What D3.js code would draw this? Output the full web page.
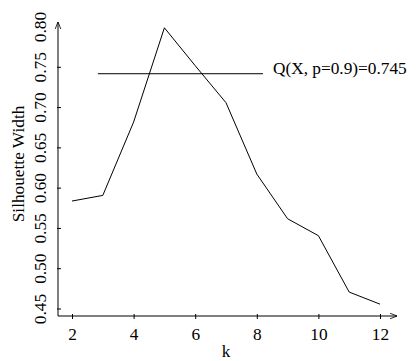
<!DOCTYPE html>
<html>
<head>
<meta charset="utf-8">
<script src="https://cdn.jsdelivr.net/npm/d3@7"></script>
<style>
  body { margin: 0; background: #fff; }
  text { font-family: "Liberation Serif", "DejaVu Serif", serif; fill: #000; font-size: 17.3px; }
</style>
</head>
<body>
<div id="chart"></div>
<script>
const kValues = [2, 3, 4, 5, 6, 7, 8, 9, 10, 11, 12];
const widths = [0.584, 0.591, 0.682, 0.799, 0.752, 0.706, 0.6175, 0.562, 0.541, 0.471, 0.456];
const xTicks = [2, 4, 6, 8, 10, 12];
const yTicks = [0.45, 0.50, 0.55, 0.60, 0.65, 0.70, 0.75, 0.80];
const quantile = 0.742;
const quantileSpan = [2.84, 8.2];
const quantileLabel = 'Q(X, p=0.9)=0.745';

const W = 420, H = 361;
const svg = d3.select('#chart').append('svg')
  .attr('width', W)
  .attr('height', H);

// scales (pixel ranges)
const x = d3.scaleLinear().domain([2, 12]).range([72, 380]);
const y = d3.scaleLinear().domain([0.45, 0.80]).range([309, 27]);

const axisX = 58, axisY = 316;

svg.append('defs').append('marker')
  .attr('id', 'arrow')
  .attr('viewBox', '0 0 10 10')
  .attr('refX', 10).attr('refY', 5)
  .attr('markerWidth', 7).attr('markerHeight', 7)
  .attr('markerUnits', 'userSpaceOnUse')
  .attr('orient', 'auto')
  .append('path')
  .attr('d', 'M0,1 L10,5 L0,9')
  .attr('fill', 'none')
  .attr('stroke', '#000')
  .attr('stroke-width', 1.2);

// x axis
const gx = svg.append('g')
  .attr('transform', 'translate(0,' + axisY + ')')
  .call(d3.axisBottom(x).tickValues(xTicks).tickSize(0).tickPadding(12).tickFormat(d3.format('d')));
gx.select('.domain').remove();
gx.selectAll('.tick').append('line')
  .attr('y1', -2).attr('y2', 3)
  .attr('stroke', '#000');
gx.selectAll('text').style('font-size', '17.3px');
svg.append('line')
  .attr('x1', axisX).attr('x2', 397)
  .attr('y1', axisY).attr('y2', axisY)
  .attr('stroke', '#000')
  .attr('marker-end', 'url(#arrow)');

// y axis
const gy = svg.append('g')
  .attr('transform', 'translate(' + axisX + ',0)');
gy.selectAll('.ytick')
  .data(yTicks.slice(0, -1))
  .enter().append('line')
  .attr('x1', -1).attr('x2', 3)
  .attr('y1', d => y(d)).attr('y2', d => y(d))
  .attr('stroke', '#000');
gy.selectAll('.ylab')
  .data(yTicks)
  .enter().append('text')
  .attr('transform', d => 'translate(-12,' + y(d) + ') rotate(-90)')
  .attr('text-anchor', 'middle')
  .text(d => d3.format('.2f')(d));
svg.append('line')
  .attr('x1', axisX).attr('x2', axisX)
  .attr('y1', axisY).attr('y2', 22)
  .attr('stroke', '#000')
  .attr('marker-end', 'url(#arrow)');

// axis titles
svg.append('text')
  .attr('x', x(7)).attr('y', 357)
  .attr('text-anchor', 'middle')
  .text('k');
svg.append('text')
  .attr('transform', 'translate(24,' + y(0.63) + ') rotate(-90)')
  .attr('text-anchor', 'middle')
  .text('Silhouette Width');

// silhouette line
const line = d3.line()
  .x((d, i) => x(kValues[i]))
  .y(d => y(d));
svg.append('path')
  .datum(widths)
  .attr('d', line)
  .attr('fill', 'none')
  .attr('stroke', '#000')
  .attr('stroke-width', 1);

// quantile line and label
svg.append('line')
  .attr('x1', x(quantileSpan[0])).attr('x2', x(quantileSpan[1]))
  .attr('y1', y(quantile)).attr('y2', y(quantile))
  .attr('stroke', '#000');
svg.append('text')
  .attr('x', x(quantileSpan[1]) + 10)
  .attr('y', y(quantile) + 0.5)
  .text(quantileLabel);
</script>
</body>
</html>
